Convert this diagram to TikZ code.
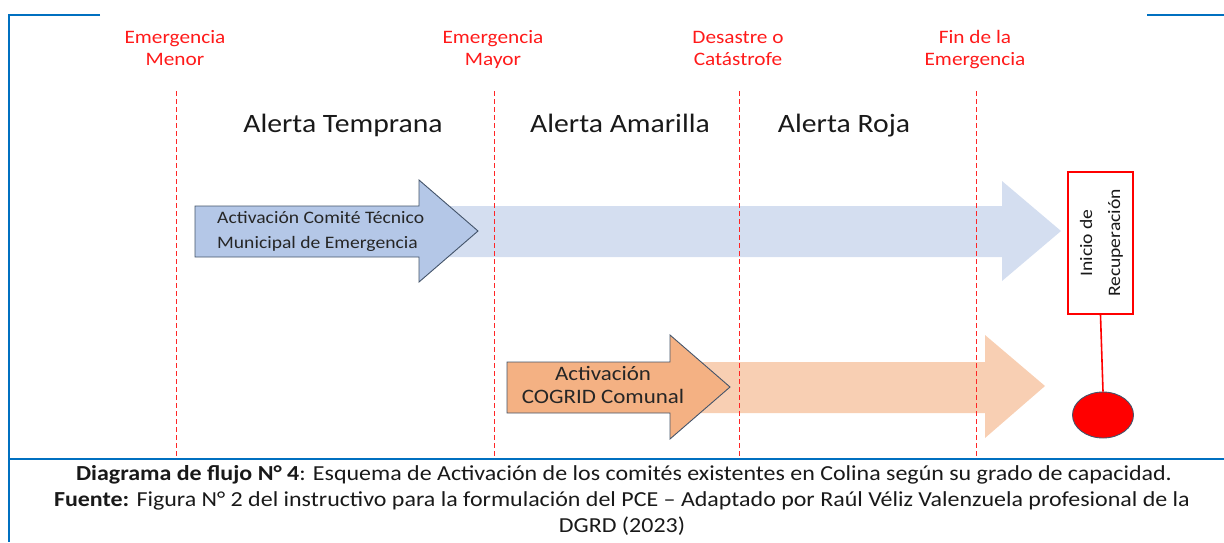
\documentclass[tikz,border=0pt]{standalone}
\usepackage{fontspec}
\setmainfont{Carlito}[FakeStretch=1.12]
\usetikzlibrary{shapes.geometric}
\definecolor{frameblue}{HTML}{0070C0}
\definecolor{lblue}{HTML}{D4DEF0}
\definecolor{dblue}{HTML}{B4C7E7}
\definecolor{lorange}{HTML}{F8CFB3}
\definecolor{dorange}{HTML}{F4B183}
\definecolor{edgegrey}{HTML}{44546A}
\definecolor{lblred}{HTML}{FF1A1A}
\tikzset{
  framethick/.style={frameblue, line width=2.5pt},
  framethin/.style={frameblue, line width=1.2pt},
  redlabel/.style={text=lblred, align=center, font=\fontsize{19}{22}\selectfont},
  phase/.style={text=black!90, anchor=base, font=\fontsize{26.5}{30}\selectfont},
  sep/.style={red!85, dashed, dash pattern=on 5pt off 3pt, line width=0.9pt},
  arrowdark/.style={draw=edgegrey, line width=0.9pt},
  arrowtext/.style={text=black!85, font=\fontsize{17.5}{25}\selectfont},
  cogridtext/.style={text=black!85, font=\fontsize{20.5}{23}\selectfont},
  caption/.style={text=black!90, font=\fontsize{21.4}{26}\selectfont, align=center}
}
\begin{document}
\begin{tikzpicture}[x=1pt,y=-1pt]
\useasboundingbox (0,0) rectangle (1224,542);
% frame
\draw[framethick] (100,15) -- (9,15) -- (9,542);
\draw[framethick] (1147,15) -- (1224,15);
\draw[framethin] (9,459) -- (1224,459);
\draw[framethick] (9,459) -- (100,459);
\draw[framethick] (1147,459) -- (1224,459);
% labels
\node[redlabel] (lmenor) at (175,50) {Emergencia\strut\\Menor\strut};
\node[redlabel] (lmayor) at (493,50) {Emergencia\strut\\Mayor\strut};
\node[redlabel] (ldes) at (738,50) {Desastre o\strut\\Catástrofe\strut};
\node[redlabel] (lfin) at (975,50) {Fin de la\strut\\Emergencia\strut};
\node[phase] (ptemp) at (343,132) {Alerta Temprana};
\node[phase] (pamar) at (620,132) {Alerta Amarilla};
\node[phase] (proja) at (844,132) {Alerta Roja};
% light arrows
\fill[lblue] (420,206) -- (1002,206) -- (1002,181) -- (1061,231) -- (1002,281) -- (1002,257) -- (420,257) -- cycle;
\fill[lorange] (700,362) -- (985,362) -- (985,335) -- (1045,386) -- (985,438) -- (985,413) -- (700,413) -- cycle;
% separators
\coordinate (s1t) at (176,91); \coordinate (s1b) at (176,459);
\coordinate (s2t) at (494,91); \coordinate (s2b) at (494,459);
\coordinate (s3t) at (739,91); \coordinate (s3b) at (739,459);
\coordinate (s4t) at (976,91); \coordinate (s4b) at (976,459);
\draw[sep] (s1t) -- (s1b);
\draw[sep] (s2t) -- (s2b);
\draw[sep] (s3t) -- (s3b);
\draw[sep] (s4t) -- (s4b);
% dark arrows
\filldraw[arrowdark, fill=dblue] (195,206) -- (419,206) -- (419,180) -- (478,231) -- (419,282) -- (419,257) -- (195,257) -- cycle;
\node[arrowtext, align=left, anchor=west, inner xsep=0pt] (tcomite) at (217,231) {Activación Comité Técnico\strut\\Municipal de Emergencia\strut};
\filldraw[arrowdark, fill=dorange] (507,362) -- (670,362) -- (670,335) -- (730,387) -- (670,439) -- (670,413) -- (507,413) -- cycle;
\node[cogridtext, align=center] (tcogrid) at (603,387) {Activación\strut\\COGRID Comunal\strut};
% recovery
\node[draw=red, line width=2pt, fill=white, minimum width=65pt, minimum height=142pt, inner sep=0pt] (rbox) at (1100.5,243) {};
\node[rotate=90, align=center, text=black!90, font=\fontsize{17.5}{28}\selectfont] (rtext) at (rbox.center) {Inicio de\strut\\Recuperación\strut};
\node[ellipse, draw=edgegrey, line width=0.9pt, fill=red, minimum width=61pt, minimum height=46pt, inner sep=0pt] (circ) at (1103,415) {};
\draw[red, line width=1.6pt] (rbox.south) -- (circ.north);
% caption
\node[caption] (cap1) at (624,475) {\textbf{Diagrama de flujo N° 4}: Esquema de Activación de los comités existentes en Colina según su grado de capacidad.};
\node[caption] (cap2) at (622,514) {\textbf{Fuente:} Figura N° 2 del instructivo para la formulación del PCE – Adaptado por Raúl Véliz Valenzuela profesional de la\\DGRD (2023)};
\end{tikzpicture}
\end{document}
